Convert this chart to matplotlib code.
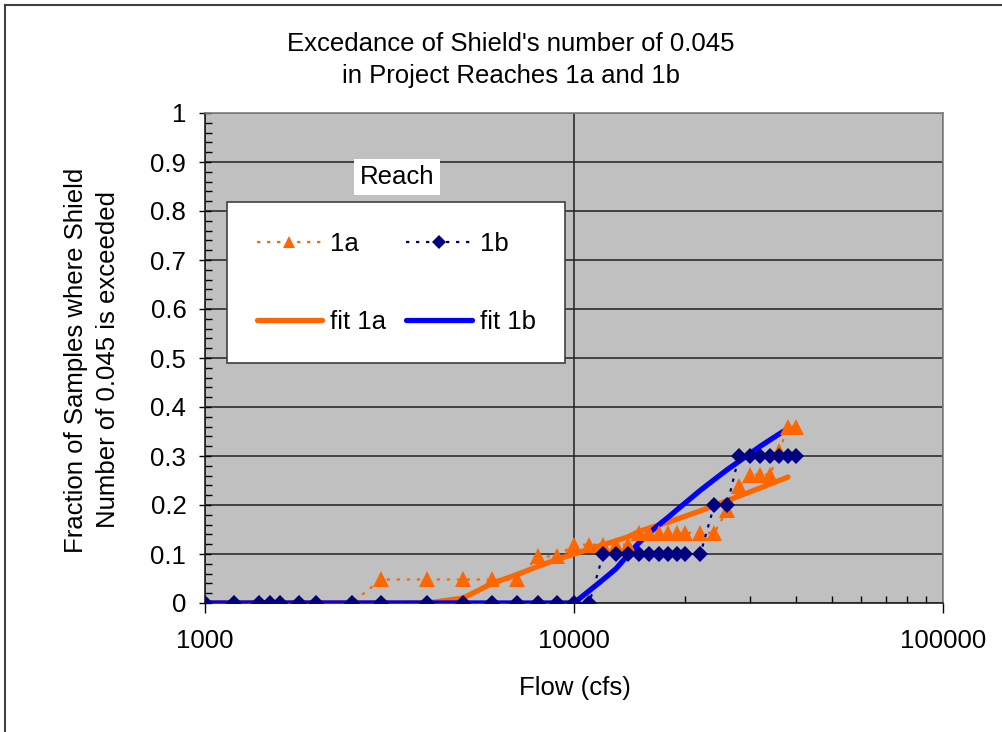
import matplotlib
matplotlib.use("Agg")
import matplotlib.pyplot as plt
from matplotlib.lines import Line2D
from matplotlib.ticker import LogLocator, FixedLocator, NullFormatter

plt.rcParams['font.family'] = ['Liberation Sans', 'DejaVu Sans']

# Datos
flow = [1000, 1200, 1400, 1500, 1600, 1800, 2000, 2500, 3000, 4000,
        5000, 6000, 7000, 8000, 9000, 10000, 11000, 12000, 13000, 14000,
        15000, 16000, 17000, 18000, 19000, 20000, 22000, 24000, 26000, 28000,
        30000, 32000, 34000, 36000, 38000, 40000]

frac_1a = [0, 0, 0, 0, 0, 0, 0, 0, 0.048, 0.048,
           0.048, 0.048, 0.048, 0.095, 0.095, 0.119, 0.119, 0.119, 0.119, 0.119,
           0.143, 0.143, 0.143, 0.143, 0.143, 0.143, 0.143, 0.143, 0.19, 0.238,
           0.262, 0.262, 0.262, 0.31, 0.36, 0.36]

frac_1b = [0, 0, 0, 0, 0, 0, 0, 0, 0, 0,
           0, 0, 0, 0, 0, 0, 0, 0.1, 0.1, 0.1,
           0.1, 0.1, 0.1, 0.1, 0.1, 0.1, 0.1, 0.2, 0.2, 0.3,
           0.3, 0.3, 0.3, 0.3, 0.3, 0.3]

fit_flow = flow[:-1]
fit_1a = [0, 0, 0, 0, 0, 0, 0, 0, 0, 0,
          0.01, 0.04, 0.058, 0.075, 0.089, 0.1, 0.11, 0.119, 0.127, 0.135,
          0.146, 0.153, 0.159, 0.165, 0.171, 0.177, 0.188, 0.199, 0.209, 0.218,
          0.227, 0.235, 0.243, 0.25, 0.257]
fit_1b = [0, 0, 0, 0, 0, 0, 0, 0, 0, 0,
          0, 0, 0, 0, 0, 0, 0.025, 0.048, 0.07, 0.098,
          0.123, 0.143, 0.16, 0.175, 0.19, 0.204, 0.23, 0.252, 0.272, 0.289,
          0.305, 0.32, 0.333, 0.345, 0.356]

x_ticks = [1000, 10000, 100000]
x_labels = ['1000', '10000', '100000']
y_ticks = [0, 0.1, 0.2, 0.3, 0.4, 0.5, 0.6, 0.7, 0.8, 0.9, 1.0]
y_labels = ['0', '0.1', '0.2', '0.3', '0.4', '0.5', '0.6', '0.7', '0.8', '0.9', '1']

orange = '#FF6600'
navy = '#000080'
blue = '#0000FF'
FS = 18.5

fig = plt.figure(figsize=(10.02, 7.32), dpi=100)
W, H = 1002, 732
ax = fig.add_axes([205 / W, 1 - 603 / H, (943 - 205) / W, (603 - 113) / H])
ax.set_facecolor('#C0C0C0')

# Líneas de ajuste
ax.plot(fit_flow, fit_1a, color=orange, lw=3.8, solid_capstyle='round', zorder=3, label='fit 1a')
ax.plot(fit_flow, fit_1b, color=blue, lw=3.8, solid_capstyle='round', zorder=3, label='fit 1b')

# Datos por tramo
ax.plot(flow, frac_1a, color=orange, lw=1.6, linestyle=(0, (1.5, 3)), marker='^',
        markersize=11, markeredgewidth=0, zorder=4, label='1a')
ax.plot(flow, frac_1b, color=navy, lw=1.6, linestyle=(0, (1.5, 3)), marker='D',
        markersize=8.5, markeredgewidth=0, zorder=5, label='1b')

ax.set_xscale('log')
ax.set_xlim(1000, 100000)
ax.set_ylim(0, 1)

ax.xaxis.set_major_locator(FixedLocator(x_ticks))
ax.xaxis.set_minor_locator(LogLocator(base=10, subs=range(2, 10)))
ax.xaxis.set_minor_formatter(NullFormatter())
ax.set_xticklabels(x_labels)
ax.yaxis.set_major_locator(FixedLocator(y_ticks))
ax.yaxis.set_minor_locator(FixedLocator([i * 0.02 for i in range(51)]))
ax.set_yticklabels(y_labels)

ax.grid(True, which='major', color='#202020', lw=1.1)
ax.set_axisbelow(True)

ax.tick_params(axis='x', which='major', direction='out', length=7, width=1, labelsize=FS, pad=12)
ax.tick_params(axis='x', which='minor', direction='in', length=5, width=1)
ax.tick_params(axis='y', which='major', direction='inout', length=9, width=1, labelsize=FS, pad=9)
ax.tick_params(axis='y', which='minor', direction='in', length=5, width=1)

for side in ['left', 'bottom']:
    ax.spines[side].set_color('#202020')
    ax.spines[side].set_linewidth(1.2)
for side in ['top', 'right']:
    ax.spines[side].set_color('#808080')
    ax.spines[side].set_linewidth(1.2)

# Títulos y etiquetas
fig.text(511 / W, 1 - 44 / H, "Excedance of Shield's number of 0.045", ha='center', va='center', fontsize=FS)
fig.text(511 / W, 1 - 76 / H, "in Project Reaches 1a and 1b", ha='center', va='center', fontsize=FS)
fig.text(92 / W, 1 - 360 / H, "Fraction of Samples where Shield\nNumber of 0.045 is exceeded",
         rotation=90, ha='center', va='center', fontsize=FS, linespacing=1.4)
fig.text(575 / W, 1 - 688 / H, "Flow (cfs)", ha='center', va='center', fontsize=FS)

# Leyenda
handles, labels = ax.get_legend_handles_labels()
order = [2, 0, 3, 1]
leg = ax.legend([handles[i] for i in order], [labels[i] for i in order], ncol=2,
                loc='upper left', bbox_to_anchor=(227 / W, 1 - 202 / H), bbox_transform=fig.transFigure,
                fontsize=FS, frameon=True, fancybox=False, edgecolor='#404040', facecolor='white',
                framealpha=1, handlelength=2.55, handletextpad=0.3, columnspacing=0.8,
                labelspacing=2.1, borderpad=1.15, borderaxespad=0, markerscale=0.85)
leg.get_frame().set_linewidth(1.2)
leg.set_zorder(10)

fig.text(397 / W, 1 - 177 / H, "Reach", ha='center', va='center', fontsize=FS, zorder=11,
         bbox=dict(facecolor='white', edgecolor='none', pad=4))

# Borde exterior del gráfico
fig.add_artist(Line2D([5 / W, 5 / W], [0, 1 - 5 / H], color='#404040', lw=1.5, transform=fig.transFigure))
fig.add_artist(Line2D([5 / W, 1], [1 - 5 / H, 1 - 5 / H], color='#404040', lw=1.5, transform=fig.transFigure))

fig.savefig('out.png', dpi=100)
